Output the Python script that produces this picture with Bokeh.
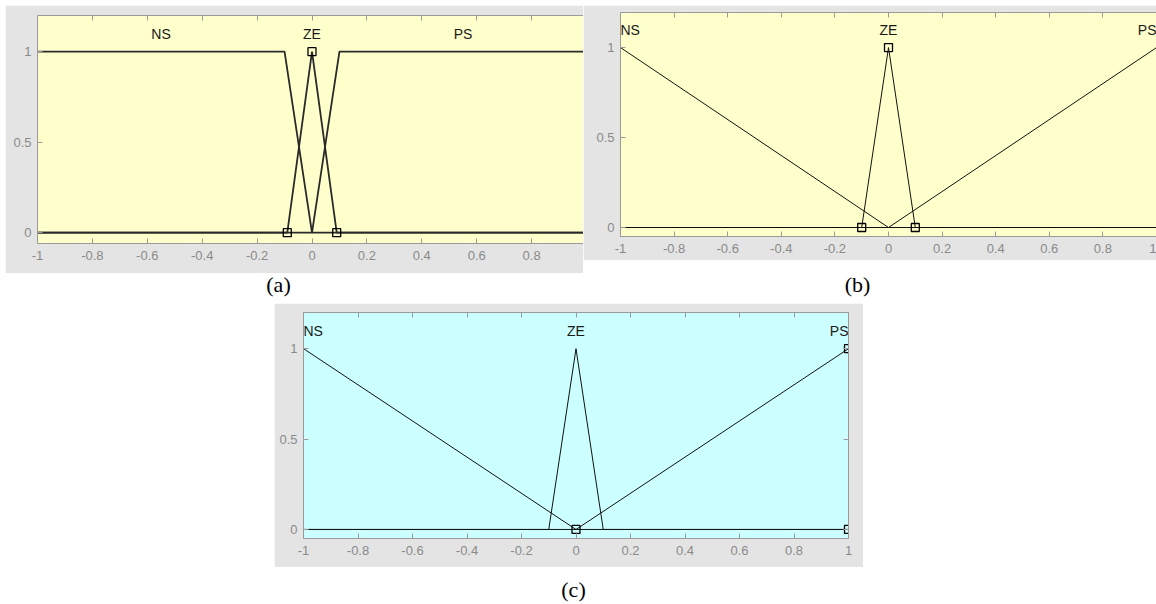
from bokeh.plotting import figure
from bokeh.layouts import column, row
from bokeh.models import (Label, LinearAxis, FixedTicker, CustomJSTickFormatter,
                          Range1d, Spacer)
from bokeh.embed import file_html
from bokeh.resources import INLINE

# ---- data -------------------------------------------------------------
x_ticks = [-1, -0.8, -0.6, -0.4, -0.2, 0, 0.2, 0.4, 0.6, 0.8, 1]
y_ticks = [0, 0.5, 1]
mf_names = ["NS", "ZE", "PS"]
name_y = [1.1, 1.1, 1.1]
captions = ["(a)", "(b)", "(c)"]

# (a) trapezoidal NS / PS with a narrow ZE triangle
a_ns_x = [-1, -0.1, 0, 1]
a_ns_y = [1, 1, 0, 0]
a_ze_x = [-1, -0.09, 0, 0.09, 1]
a_ze_y = [0, 0, 1, 0, 0]
a_ps_x = [-1, 0, 0.1, 1]
a_ps_y = [0, 0, 1, 1]
a_sel_x = [-0.09, 0, 0.09]      # parameter points of the selected MF (ZE)
a_sel_y = [0, 1, 0]
a_name_x = [-0.55, 0, 0.55]

# (b) triangular set, ZE selected
b_ns_x = [-1, 0, 1]
b_ns_y = [1, 0, 0]
b_ze_x = [-1, -0.1, 0, 0.1, 1]
b_ze_y = [0, 0, 1, 0, 0]
b_ps_x = [-1, 0, 1]
b_ps_y = [0, 0, 1]
b_sel_x = [-0.1, 0, 0.1]
b_sel_y = [0, 1, 0]
b_name_x = [-1, 0, 1]

# (c) same triangular set, PS selected
c_ns_x = [-1, 0, 1]
c_ns_y = [1, 0, 0]
c_ze_x = [-1, -0.1, 0, 0.1, 1]
c_ze_y = [0, 0, 1, 0, 0]
c_ps_x = [-1, 0, 1]
c_ps_y = [0, 0, 1]
c_sel_x = [0, 1, 1]
c_sel_y = [0, 1, 0]
c_name_x = [-1, 0, 1]

# ---- styling ----------------------------------------------------------
GREY = "#e4e4e4"
AXIS = "#9a9a9a"
TICK_TXT = "#8a8a8a"
YELLOW = "#ffffcc"
CYAN = "#ccffff"
FONT = "Liberation Sans"


def style_axis(ax, ticks, labels=True):
    ax.ticker = FixedTicker(ticks=ticks)
    ax.axis_line_color = AXIS
    ax.major_tick_line_color = AXIS
    ax.major_tick_in = 5
    ax.major_tick_out = 0
    ax.minor_tick_line_color = None
    ax.major_label_text_font = FONT
    ax.major_label_text_color = TICK_TXT
    if labels:
        ax.formatter = CustomJSTickFormatter(code="return tick.toString()")
        ax.major_label_text_font_size = "13px"
    else:
        # tick marks only on the opposite box edges
        ax.formatter = CustomJSTickFormatter(code="return ''")
        ax.major_label_text_font_size = "1px"
        ax.major_label_standoff = 0


def mf_panel(width, height, borders, x_end, y_rng, bg, mfs, sel, name_x,
             lw, lcol, extra_right):
    left, right, top, bottom = borders
    p = figure(width=width, height=height, output_backend="svg",
               toolbar_location=None,
               x_range=Range1d(-1, x_end), y_range=Range1d(*y_rng),
               background_fill_color=bg, border_fill_color=GREY,
               min_border_left=left, min_border_right=right,
               min_border_top=top, min_border_bottom=bottom)
    p.outline_line_color = None
    p.grid.visible = False
    style_axis(p.xaxis[0], x_ticks)
    p.xaxis[0].major_label_standoff = 7
    style_axis(p.yaxis[0], y_ticks)
    p.yaxis[0].major_label_standoff = 6

    top_ax = LinearAxis()
    style_axis(top_ax, x_ticks, labels=False)
    p.add_layout(top_ax, "above")
    if extra_right:
        right_ax = LinearAxis()
        style_axis(right_ax, y_ticks, labels=False)
        p.add_layout(right_ax, "right")

    for xs, ys in mfs:
        p.line(xs, ys, line_color=lcol, line_width=lw)
    p.scatter(sel[0], sel[1], marker="square", size=8, fill_color=None,
              line_color="black", line_width=1.3)

    # MF names above each peak; names on the range ends are kept inside the box
    for nx, ny, name in zip(name_x, name_y, mf_names):
        align = "left" if nx <= -1 else ("right" if nx >= 1 else "center")
        p.add_layout(Label(x=nx, y=ny, text=name, text_align=align,
                           text_baseline="middle", text_font=FONT,
                           text_font_size="14px", text_color="#1a1a1a"))
    return p


# frame of (a) runs past its visible right edge (covered by panel b)
fa = mf_panel(578, 268, (32, 0, 10, 30), -1 + 2 * 546 / 549, (-0.06, 1.2), YELLOW,
              [(a_ns_x, a_ns_y), (a_ze_x, a_ze_y), (a_ps_x, a_ps_y)],
              (a_sel_x, a_sel_y), a_name_x, 1.8, "#2a2a2a", False)

fb = mf_panel(573, 255, (37, 0, 7, 24), 1, (-0.05, 1.195), YELLOW,
              [(b_ns_x, b_ns_y), (b_ze_x, b_ze_y), (b_ps_x, b_ps_y)],
              (b_sel_x, b_sel_y), b_name_x, 1.0, "#111111", False)

fc = mf_panel(589, 264, (29, 15, 9, 29), 1, (-0.05, 1.2), CYAN,
              [(c_ns_x, c_ns_y), (c_ze_x, c_ze_y), (c_ps_x, c_ps_y)],
              (c_sel_x, c_sel_y), c_name_x, 1.0, "#111111", True)


def caption_strip(height, items):
    p = figure(width=1156, height=height, output_backend="svg",
               toolbar_location=None, x_axis_type=None, y_axis_type=None,
               x_range=Range1d(0, 1156), y_range=Range1d(0, height),
               min_border=0, background_fill_color="white",
               border_fill_color="white")
    p.outline_line_color = None
    p.grid.visible = False
    for text, cx, cy in items:
        p.add_layout(Label(x=cx, y=cy, text=text, text_align="center",
                           text_baseline="middle", text_font="Liberation Serif",
                           text_font_size="22px", text_color="black"))
    return p


cap_ab = caption_strip(30, [(captions[0], 278, 19), (captions[1], 857, 19)])
cap_c = caption_strip(37, [(captions[2], 573, 15)])

layout = column(
    Spacer(width=1156, height=5),
    row(Spacer(width=5, height=268), fa, column(fb, Spacer(width=573, height=13))),
    cap_ab,
    row(Spacer(width=274, height=264), fc, Spacer(width=293, height=264)),
    cap_c,
)

open("out.html", "w").write(file_html(layout, INLINE))
